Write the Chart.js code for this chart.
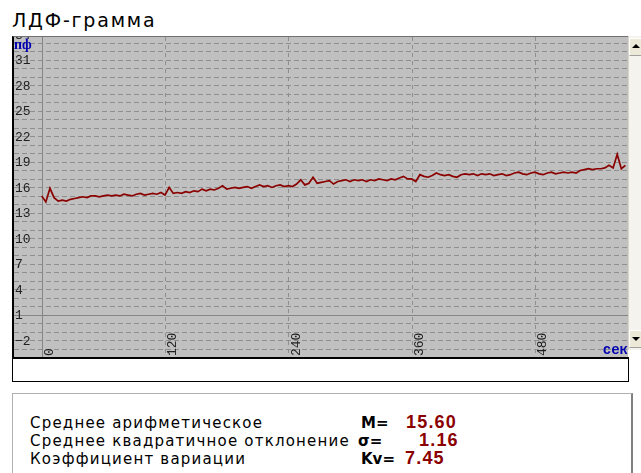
<!DOCTYPE html>
<html>
<head>
<meta charset="utf-8">
<script src="https://cdn.jsdelivr.net/npm/chart.js@4"></script>
<style>
  body { margin: 0; background: #fff; width: 641px; height: 473px; overflow: hidden; position: relative; }
  #title { position: absolute; left: 12px; top: 9px; font: 19px "DejaVu Sans", sans-serif; letter-spacing: 1.8px; color: #000; }
  #plot { position: absolute; left: 12px; top: 36px; width: 616px; height: 321px; border-left: 2px solid #000; border-top: 1px solid #707070; box-sizing: border-box; }
  #plot canvas { display: block; }
  #scroll { position: absolute; left: 628px; top: 36px; width: 13px; height: 314px; background: #f4f3ee; border-left: 1px solid #d8d5c8; box-sizing: border-box; }
  .btn { position: absolute; left: 0; width: 13px; height: 18px; background: #ece9d8; border: 1px solid #fff; border-right-color: #a0a0a0; border-bottom-color: #a0a0a0; box-sizing: border-box; }
  .btn:after { content: ""; position: absolute; left: 2px; border-left: 4px solid transparent; border-right: 4px solid transparent; }
  #up { top: 2px; } #up:after { top: 5px; border-bottom: 4px solid #000; }
  #down { top: 294px; } #down:after { top: 6px; border-top: 4px solid #000; }
  #xbox { position: absolute; left: 12px; top: 357px; width: 617px; height: 25px; border: 1px solid #000; border-top: 2px solid #000; box-sizing: border-box; }
  #stats { position: absolute; left: 12px; top: 393px; width: 621px; height: 90px; border-top: 1px solid #b0b0b0; border-left: 1px solid #b0b0b0; border-right: 2px solid #808080; box-sizing: border-box; }
  .row { position: absolute; left: 17px; font: 15px "DejaVu Sans", sans-serif; letter-spacing: 1.2px; color: #000; white-space: nowrap; }
  .sym { position: absolute; left: 348px; font: bold 15px "DejaVu Sans", sans-serif; }
  .val { position: absolute; font: bold 18px "Liberation Sans Narrow", "Liberation Sans", sans-serif; letter-spacing: 1.2px; color: #8b0000; }
</style>
</head>
<body>
<div id="title">ЛДФ-грамма</div>
<div id="plot"><canvas id="ldf"></canvas></div>
<div id="scroll"><div class="btn" id="up"></div><div class="btn" id="down"></div></div>
<div id="xbox"></div>
<div id="stats">
  <div class="row" style="top:20px">Среднее арифметическое</div>
  <div class="row" style="top:38px">Среднее квадратичное отклонение</div>
  <div class="row" style="top:56px">Коэффициент вариации</div>
  <div class="sym" style="top:20px">M=</div>
  <div class="sym" style="top:38px; left:345px">σ=</div>
  <div class="sym" style="top:56px">Kv=</div>
  <div class="val" style="top:18px; left:393px">15.60</div>
  <div class="val" style="top:36px; left:406px">1.16</div>
  <div class="val" style="top:54px; left:392px">7.45</div>
</div>
<script>
// LDF signal, one reading every 4 seconds
const sampleStep = 4;
const ldfValues = [
  15.0, 14.3, 15.9, 14.8, 14.4, 14.5, 14.4, 14.6, 14.7, 14.8,
  14.9, 14.8, 15.0, 15.0, 14.9, 15.0, 15.1, 15.0, 15.1, 15.0,
  15.2, 15.1, 15.0, 15.2, 15.3, 15.1, 15.2, 15.3, 15.2, 15.4,
  15.1, 16.0, 15.3, 15.4, 15.3, 15.5, 15.4, 15.6, 15.5, 15.8,
  15.6, 15.8, 15.7, 15.9, 16.2, 15.8, 15.9, 16.0, 15.9, 16.0,
  16.1, 15.9, 16.1, 16.3, 16.1, 16.2, 16.0, 16.2, 16.3, 16.1,
  16.2, 16.1, 16.4, 16.9, 16.3, 16.5, 17.2, 16.5, 16.6, 16.7,
  16.8, 16.4, 16.7, 16.8, 16.9, 16.7, 16.9, 16.8, 16.9, 16.7,
  16.9, 16.8, 17.0, 16.9, 16.8, 17.0, 16.9, 17.1, 17.3, 17.0,
  17.0, 16.7, 17.5, 17.3, 17.2, 17.4, 17.7, 17.5, 17.4, 17.5,
  17.3, 17.2, 17.5, 17.6, 17.5, 17.6, 17.4, 17.6, 17.5, 17.6,
  17.4, 17.5, 17.6, 17.4, 17.5, 17.7, 17.8, 17.6, 17.5, 17.7,
  17.8, 17.6, 17.5, 17.7, 17.8, 17.6, 17.7, 17.8, 17.7, 17.8,
  17.7, 18.0, 18.1, 18.2, 18.1, 18.2, 18.2, 18.3, 18.6, 18.3,
  19.9, 18.2, 18.6
];
const yTickLabels = [-2, 1, 4, 7, 10, 13, 16, 19, 22, 25, 28, 31, 34];
const xTickLabels = [0, 120, 240, 360, 480];
const baseLineY = 1;

const points = ldfValues.map((v, i) => ({ x: i * sampleStep, y: v }));

const canvas = document.getElementById('ldf');
canvas.width = 614;
canvas.height = 320;

// grey background, dashed grid and the labels drawn inside the plot
const plotDecor = {
  id: 'plotDecor',
  beforeDatasetsDraw(chart) {
    const { ctx, chartArea: a, scales: { x, y } } = chart;
    ctx.save();
    ctx.fillStyle = '#c0c0c0';
    ctx.fillRect(a.left, a.top, a.right - a.left, a.bottom - a.top);
    ctx.lineWidth = 1;
    // horizontal dashed lines, one per unit
    ctx.strokeStyle = '#8e8e8e';
    ctx.setLineDash([5, 3]);
    for (let v = Math.ceil(y.min); v <= y.max; v++) {
      if (v === baseLineY) continue;
      const py = Math.round(y.getPixelForValue(v)) + 0.5;
      ctx.beginPath(); ctx.moveTo(a.left, py); ctx.lineTo(a.right, py); ctx.stroke();
    }
    // vertical dashed lines at the time ticks
    ctx.setLineDash([4, 4]);
    xTickLabels.forEach(t => {
      if (t === 0) return;
      const px = Math.round(x.getPixelForValue(t)) + 0.5;
      ctx.beginPath(); ctx.moveTo(px, a.top); ctx.lineTo(px, a.bottom); ctx.stroke();
    });
    // solid zero-time line and base line
    ctx.setLineDash([]);
    ctx.strokeStyle = '#858585';
    const x0 = Math.round(x.getPixelForValue(0)) + 0.5;
    ctx.beginPath(); ctx.moveTo(x0, a.top); ctx.lineTo(x0, a.bottom); ctx.stroke();
    const yb = Math.round(y.getPixelForValue(baseLineY)) + 0.5;
    ctx.beginPath(); ctx.moveTo(a.left, yb); ctx.lineTo(a.right, yb); ctx.stroke();

    // tick labels
    ctx.beginPath(); ctx.rect(a.left, a.top, a.right - a.left, a.bottom - a.top); ctx.clip();
    ctx.fillStyle = '#202020';
    ctx.font = '13px "Liberation Mono", monospace';
    ctx.textAlign = 'left';
    ctx.textBaseline = 'middle';
    yTickLabels.forEach(v => {
      ctx.fillText(String(v).replace('-', '−'), a.left + 1, y.getPixelForValue(v) + 1);
    });
    xTickLabels.forEach(t => {
      const px = x.getPixelForValue(t);
      ctx.save();
      ctx.translate(px + 8, a.bottom - 1);
      ctx.rotate(-Math.PI / 2);
      ctx.textBaseline = 'middle';
      ctx.fillText(String(t), 0, 0);
      ctx.restore();
    });
    ctx.fillStyle = '#0000b0';
    ctx.font = 'bold 14px "Liberation Serif", serif';
    ctx.textBaseline = 'top';
    ctx.fillText('пф', a.left, a.top + 1);
    ctx.font = 'bold 14px "Liberation Mono", monospace';
    ctx.textAlign = 'right';
    ctx.textBaseline = 'bottom';
    ctx.fillText('сек', a.right, a.bottom);
    ctx.restore();
  }
};

const ldfChart = new Chart(canvas, {
  type: 'line',
  data: {
    datasets: [{
      data: points,
      borderColor: '#8b0000',
      borderWidth: 1.7,
      pointRadius: 0,
      tension: 0
    }]
  },
  options: {
    responsive: false,
    animation: false,
    layout: { padding: 0 },
    plugins: { legend: { display: false }, tooltip: { enabled: false } },
    scales: {
      x: { type: 'linear', min: -27, max: 570.5, display: false },
      y: { type: 'linear', min: -3.95, max: 33.7, display: false }
    }
  },
  plugins: [plotDecor]
});
</script>
</body>
</html>
